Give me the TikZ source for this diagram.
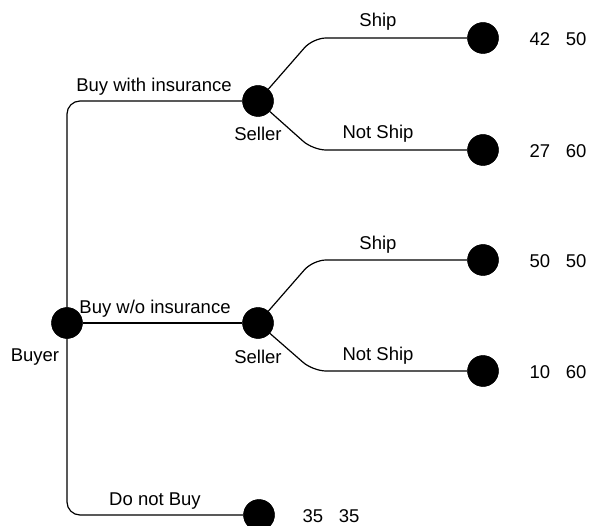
\documentclass[tikz,border=0pt]{standalone}
\usepackage{fontspec}
\setmainfont{Liberation Sans}
\begin{document}
\begin{tikzpicture}[x=1pt,y=-1pt,
  dot/.style={circle,fill=black,draw=black,inner sep=0pt,minimum size=31pt},
  lbl/.style={inner sep=0pt,font=\fontsize{18.5}{22}\selectfont},
  branch/.style={line width=1.2pt,rounded corners=13pt}]
\useasboundingbox (0,0) rectangle (591,526);
% nodes
\node[dot] (buyer) at (67,323) {};
\node[dot] (s1) at (258,101) {};
\node[dot] (s2) at (258,323) {};
\node[dot] (l1) at (483,38) {};
\node[dot] (l2) at (483,150) {};
\node[dot] (l3) at (483,260) {};
\node[dot] (l4) at (483,371) {};
\node[dot] (l5) at (259,515) {};
% corner coordinates
\coordinate (c1) at (313,38);
\coordinate (c2) at (313,150);
\coordinate (c3) at (313,260);
\coordinate (c4) at (313,371);
% connectors
\draw[branch] (s1) -| (buyer.center) |- (l5);
\draw[branch] (buyer) -- (s2);
\draw[branch] (s1) -- (c1) -- (l1);
\draw[branch] (s1) -- (c2) -- (l2);
\draw[branch] (s2) -- (c3) -- (l3);
\draw[branch] (s2) -- (c4) -- (l4);
% redraw dots on top
\foreach \n in {buyer,s1,s2,l1,l2,l3,l4,l5} \fill (\n) circle (15.5pt);
% labels
\node[lbl] (t1) at (154,87) {Buy with insurance};
\node[lbl] (t2) at (155,309) {Buy w/o insurance};
\node[lbl] (t3) at (155,501) {Do not Buy};
\node[lbl] (t4) at (35,357) {Buyer};
\node[lbl] (t5) at (258,134) {Seller};
\node[lbl] (t6) at (258,357) {Seller};
\node[lbl] (t7) at (378,22) {Ship};
\node[lbl] (t8) at (378,134) {Not Ship};
\node[lbl] (t9) at (378,245) {Ship};
\node[lbl] (t10) at (378,356) {Not Ship};
\node[lbl] (p1) at (558,39) {42\hspace{0.85em}50};
\node[lbl] (p2) at (558,151) {27\hspace{0.85em}60};
\node[lbl] (p3) at (558,261) {50\hspace{0.85em}50};
\node[lbl] (p4) at (558,372) {10\hspace{0.85em}60};
\node[lbl] (p5) at (331,516) {35\hspace{0.85em}35};
\end{tikzpicture}
\end{document}
